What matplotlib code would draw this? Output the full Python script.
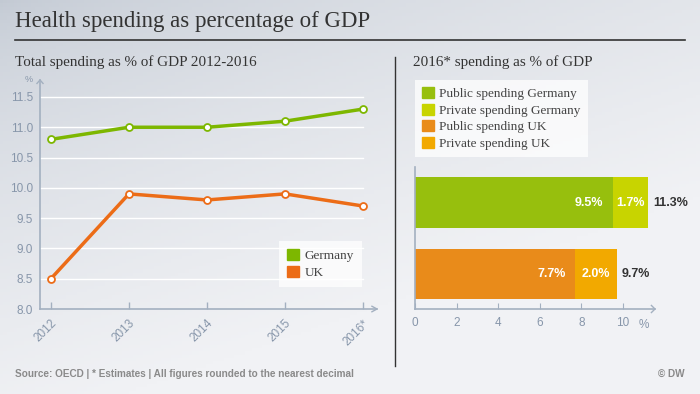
import numpy as np
import matplotlib
matplotlib.use("Agg")
import matplotlib.pyplot as plt
from matplotlib.patches import Patch

# ---- data ----
years = [2012, 2013, 2014, 2015, 2016]
year_labels = ["2012", "2013", "2014", "2015", "2016*"]
germany_total = [10.8, 11.0, 11.0, 11.1, 11.3]
uk_total = [8.5, 9.9, 9.8, 9.9, 9.7]

countries = ["UK", "Germany"]
public_2016 = [7.7, 9.5]
private_2016 = [2.0, 1.7]
total_2016 = [9.7, 11.3]

# ---- style ----
W, H = 700, 394
GREEN = "#7db700"
ORANGE = "#ec6c17"
PUB_COLORS = ["#e98b1a", "#97bf0d"]
PRIV_COLORS = ["#f2a900", "#c8d400"]
AXIS = "#a3b0c0"
TICK = "#8796aa"
SERIF = ["Liberation Serif", "DejaVu Serif"]
SANS = ["Liberation Sans", "DejaVu Sans"]
NARROW = ["Liberation Sans Narrow", "Liberation Sans", "DejaVu Sans"]


def px(x0, y0, x1, y1):
    return [x0 / W, 1 - y1 / H, (x1 - x0) / W, (y1 - y0) / H]


fig = plt.figure(figsize=(W / 100, H / 100), dpi=100)

# background gradient
bg = fig.add_axes([0, 0, 1, 1], zorder=-10)
gx, gy = np.meshgrid(np.linspace(0, 1, 200), np.linspace(0, 1, 120))
t = np.clip(0.55 * gx + 0.9 * gy, 0, 1) ** 0.6
c0 = np.array([0xc2, 0xc9, 0xd3]) / 255
c1 = np.array([0xf1, 0xf2, 0xf5]) / 255
img = c0 + (c1 - c0) * t[..., None]
bg.imshow(img, aspect="auto", extent=[0, 1, 0, 1], origin="upper")
bg.set_xlim(0, 1)
bg.set_ylim(0, 1)
bg.axis("off")

# title, rule, subtitles, divider
fig.text(15 / W, 1 - 22 / H, "Health spending as percentage of GDP", family=SERIF,
         fontsize=16.5, color="#333333", va="center")
fig.add_artist(plt.Line2D([15 / W, 685 / W], [1 - 40 / H, 1 - 40 / H], color="#333333", lw=1.2))
fig.text(15 / W, 1 - 62 / H, "Total spending as % of GDP 2012-2016", family=SERIF,
         fontsize=10.9, color="#333333", va="center")
fig.text(413 / W, 1 - 62 / H, "2016* spending as % of GDP", family=SERIF,
         fontsize=10.9, color="#333333", va="center")
fig.add_artist(plt.Line2D([395 / W, 395 / W], [1 - 57 / H, 1 - 366 / H], color="#333333", lw=1))

# footer
fig.text(15 / W, 1 - 374 / H, "Source: OECD | * Estimates | All figures rounded to the nearest decimal",
         family=NARROW, fontsize=7.2, color="#8a8a8a", weight="bold", va="center")
fig.text(685 / W, 1 - 374 / H, "© DW", family=NARROW, fontsize=7.2, color="#8a8a8a",
         weight="bold", va="center", ha="right")

# ---- left: line chart ----
ax = fig.add_axes(px(40, 80, 377, 309))
ax.set_facecolor("none")
ax.set_xlim(2011.86, 2016.18)
ax.set_ylim(8.0, 11.78)
for y in np.arange(8.5, 11.51, 0.5):
    ax.plot([2011.86, years[-1]], [y, y], color="white", lw=1, zorder=1)
ax.plot(years, germany_total, color=GREEN, lw=2.5, marker="o", ms=5,
        mfc="white", mec=GREEN, mew=1.3, zorder=3)
ax.plot(years, uk_total, color=ORANGE, lw=2.5, marker="o", ms=5,
        mfc="white", mec=ORANGE, mew=1.3, zorder=3)
for s in ["top", "right"]:
    ax.spines[s].set_visible(False)
for s in ["left", "bottom"]:
    ax.spines[s].set_color(AXIS)
    ax.spines[s].set_linewidth(1.2)
ax.set_yticks(np.arange(8.0, 11.51, 0.5))
ax.set_yticklabels([f"{v:.1f}" for v in np.arange(8.0, 11.51, 0.5)])
ax.set_xticks(years)
ax.set_xticklabels(year_labels, rotation=45, ha="right", rotation_mode="anchor")
ax.tick_params(axis="y", length=0, pad=5, labelcolor=TICK, labelsize=8.5)
ax.tick_params(axis="x", direction="in", length=5, color=AXIS, width=1,
               labelcolor=TICK, labelsize=8.5, pad=6)
for lab in ax.get_yticklabels() + ax.get_xticklabels():
    lab.set_family(SANS)
# axis arrows
ax.plot([0.985, 1.0, 0.985], [0.012, 0, -0.012], transform=ax.transAxes, color=AXIS,
        lw=1, clip_on=False)
ax.plot([-0.009, 0, 0.009], [0.985, 1.0, 0.985], transform=ax.transAxes, color=AXIS,
        lw=1, clip_on=False)
ax.text(-0.035, 1.0, "%", transform=ax.transAxes, fontsize=6.5, color=TICK,
        family=SANS, ha="center", va="center")
leg = ax.legend(handles=[Patch(color=GREEN, label="Germany"), Patch(color=ORANGE, label="UK")],
                loc="lower right", bbox_to_anchor=(0.955, 0.096), frameon=True, borderaxespad=0,
                prop={"family": SERIF, "size": 9.5}, handlelength=0.9, handleheight=0.9,
                handletextpad=0.4, borderpad=0.6, labelspacing=0.3, fancybox=False)
leg.get_frame().set_facecolor("white")
leg.get_frame().set_alpha(0.75)
leg.get_frame().set_linewidth(0)
for txt in leg.get_texts():
    txt.set_color("#444444")

# ---- right: stacked bars ----
bx = fig.add_axes(px(415, 167, 655, 309))
bx.set_facecolor("none")
pos = np.arange(len(countries))
bx.barh(pos, public_2016, height=0.713, color=PUB_COLORS)
bx.barh(pos, private_2016, left=public_2016, height=0.713, color=PRIV_COLORS)
bx.set_xlim(0, 11.54)
bx.set_ylim(-0.49, 1.5)
for i in pos:
    bx.text(public_2016[i] - 0.45, i, f"{public_2016[i]:.1f}%", ha="right", va="center",
            color="white", weight="bold", fontsize=9, family=SANS)
    bx.text(public_2016[i] + private_2016[i] / 2, i, f"{private_2016[i]:.1f}%", ha="center",
            va="center", color="white", weight="bold", fontsize=9, family=SANS)
    bx.text(public_2016[i] + private_2016[i] + 0.25, i, f"{total_2016[i]:.1f}%", ha="left",
            va="center", color="#333333", weight="bold", fontsize=9, family=SANS)
for s in ["top", "right"]:
    bx.spines[s].set_visible(False)
for s in ["left", "bottom"]:
    bx.spines[s].set_color(AXIS)
    bx.spines[s].set_linewidth(1.2)
bx.set_yticks([])
bx.set_xticks([0, 2, 4, 6, 8, 10])
bx.tick_params(axis="x", direction="in", length=4, color=AXIS, labelcolor=TICK,
               labelsize=8.5, pad=6)
for lab in bx.get_xticklabels():
    lab.set_family(SANS)
bx.plot([0.985, 1.0, 0.985], [0.025, 0, -0.025], transform=bx.transAxes, color=AXIS,
        lw=1, clip_on=False)
bx.text(11.0, -0.72, "%", color=TICK, fontsize=8.5, family=SANS, ha="center", va="center")

handles = [Patch(color=PUB_COLORS[1], label="Public spending Germany"),
           Patch(color=PRIV_COLORS[1], label="Private spending Germany"),
           Patch(color=PUB_COLORS[0], label="Public spending UK"),
           Patch(color=PRIV_COLORS[0], label="Private spending UK")]
leg2 = fig.legend(handles=handles, loc="upper left", bbox_to_anchor=(415 / W, 1 - 80 / H),
                  frameon=True, borderaxespad=0, prop={"family": SERIF, "size": 9.5},
                  handlelength=0.9, handleheight=0.9, handletextpad=0.4, borderpad=0.55,
                  labelspacing=0.27, fancybox=False)
leg2.get_frame().set_facecolor("white")
leg2.get_frame().set_alpha(0.75)
leg2.get_frame().set_linewidth(0)
for txt in leg2.get_texts():
    txt.set_color("#444444")

fig.savefig("out.png", dpi=100)
